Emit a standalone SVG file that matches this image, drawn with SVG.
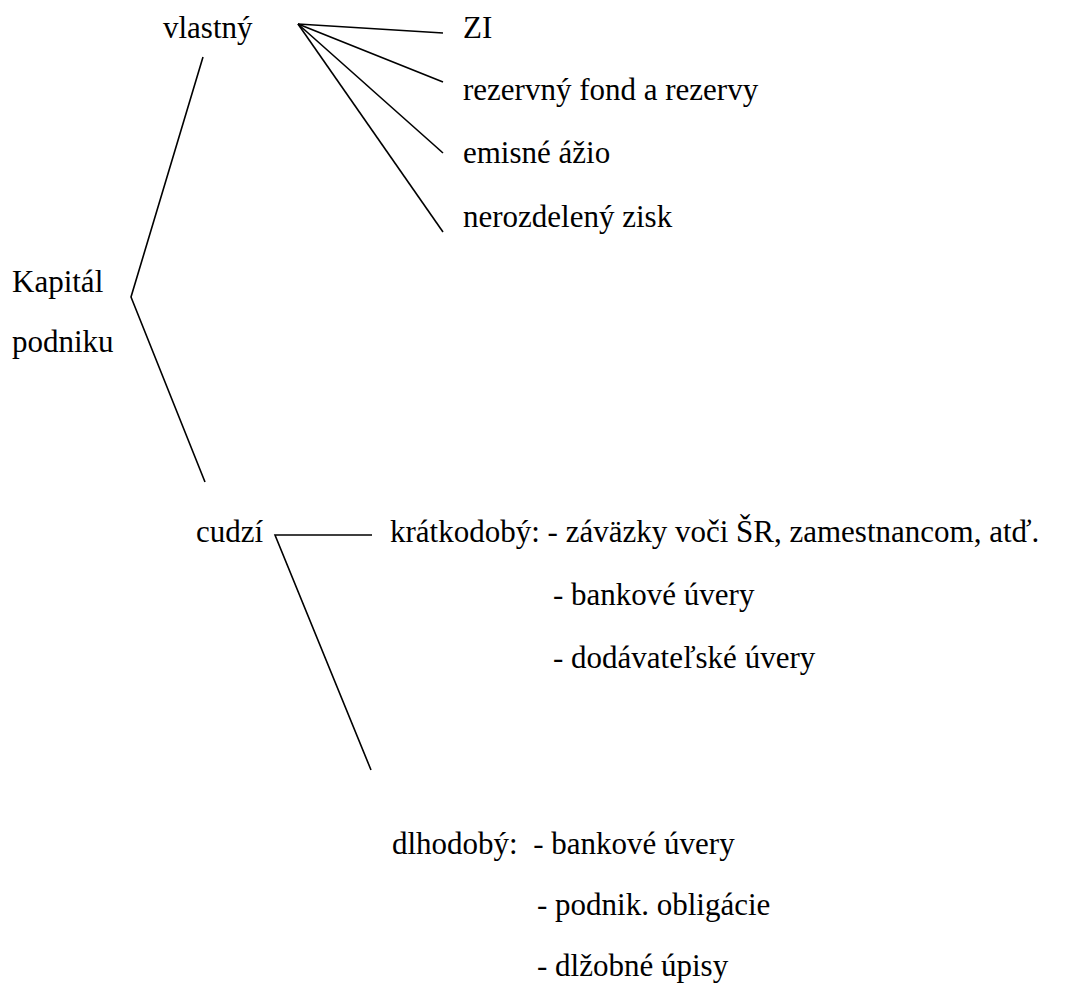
<svg xmlns="http://www.w3.org/2000/svg" width="1066" height="991" viewBox="0 0 1066 991">
<style>
.t text{font-size:31px;fill:#000}
.c{stroke:#000;stroke-width:1.6;fill:none}
</style>
<rect width="1066" height="991" fill="#fff"/>
<g id="connectors">
<polyline class="c" points="203,57 131,297 205,482"/>
<line class="c" x1="298" y1="24" x2="443" y2="33"/>
<line class="c" x1="298" y1="24" x2="443" y2="82"/>
<line class="c" x1="298" y1="24" x2="443" y2="153"/>
<line class="c" x1="298" y1="24" x2="443" y2="232"/>
<polyline class="c" points="372,535 275,535 371,770"/>
</g>
<g class="t" font-family="Liberation Serif, Times New Roman, DejaVu Serif, serif">
<g id="kapital"><text x="12" y="292">Kapitál</text><text x="12" y="352">podniku</text></g>
<g id="vlastny"><text x="163" y="38">vlastný</text></g>
<g id="zi"><text x="463" y="38">ZI</text></g>
<g id="rezervny"><text x="463" y="100">rezervný fond a rezervy</text></g>
<g id="emisne"><text x="463" y="163">emisné ážio</text></g>
<g id="nerozdeleny"><text x="463" y="227">nerozdelený zisk</text></g>
<g id="cudzi"><text x="196" y="542">cudzí</text></g>
<g id="kratkodoby">
<text x="390" y="542">krátkodobý: - záväzky voči ŠR, zamestnancom, atď.</text>
<text x="553" y="605">- bankové úvery</text>
<text x="553" y="668">- dodávateľské úvery</text>
</g>
<g id="dlhodoby">
<text x="392" y="854" xml:space="preserve">dlhodobý:  - bankové úvery</text>
<text x="537" y="915">- podnik. obligácie</text>
<text x="537" y="976">- dlžobné úpisy</text>
</g>
</g>
</svg>
